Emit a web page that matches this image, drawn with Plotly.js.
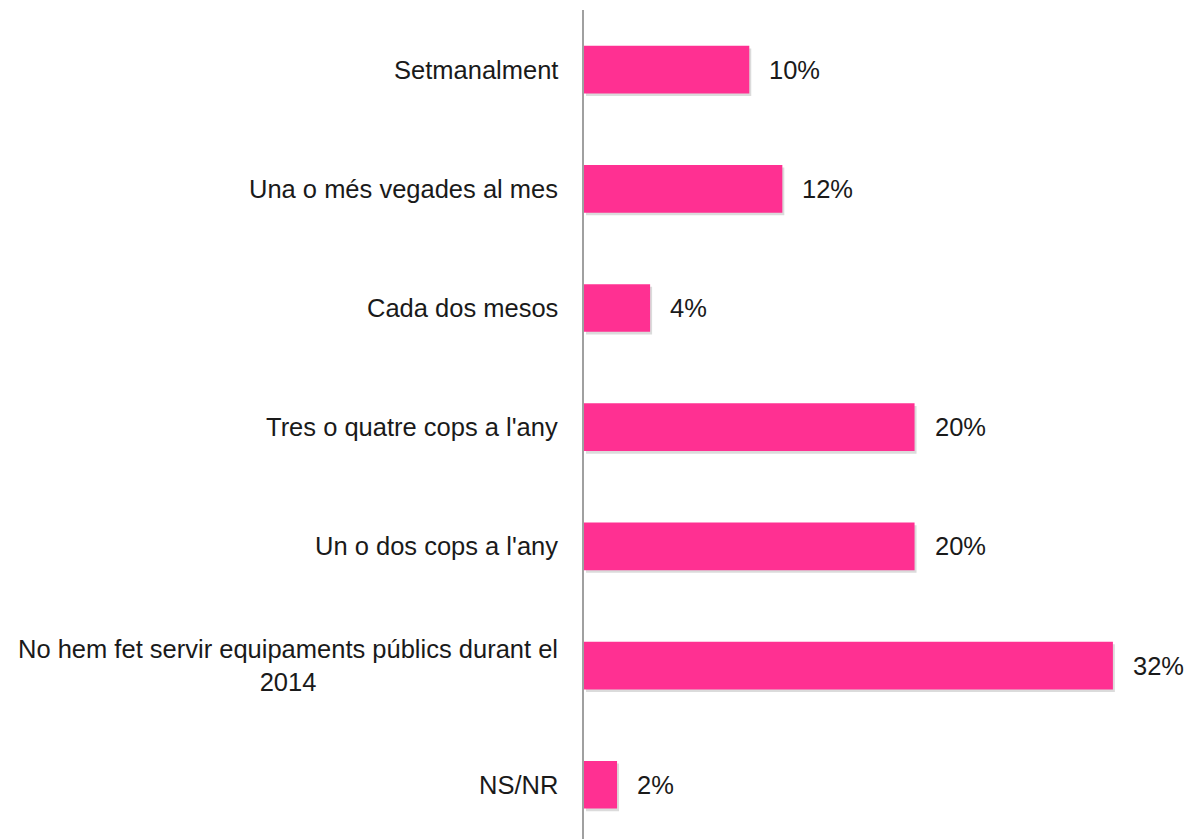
<!DOCTYPE html>
<html>
<head>
<meta charset="utf-8">
<script src="https://cdn.plot.ly/plotly-3.0.1.min.js"></script>
<style>
  body { margin: 0; background: #fff; }
  #plotDiv { width: 1200px; height: 839px; }
</style>
</head>
<body>
<div id="plotDiv"></div>
<script>
var categories = [
  'Setmanalment',
  'Una o més vegades al mes',
  'Cada dos mesos',
  "Tres o quatre cops a l'any",
  "Un o dos cops a l'any",
  'No hem fet servir equipaments públics durant el<br>2014',
  'NS/NR'
];
var values = [10, 12, 4, 20, 20, 32, 2];

var fontFam = '"Liberation Sans", Arial, sans-serif';

// soft drop shadow under each bar
var shadow = {
  type: 'bar',
  orientation: 'h',
  y: categories,
  x: values,
  base: 0.12,
  width: 0.4,
  offset: -0.178,
  marker: { color: 'rgba(0,0,0,0.14)' },
  hoverinfo: 'none'
};

var bars = {
  type: 'bar',
  orientation: 'h',
  y: categories,
  x: values,
  width: 0.4,
  offset: -0.2,
  marker: { color: '#FF3092' },
  hoverinfo: 'none'
};

var annotations = [];
for (var i = 0; i < categories.length; i++) {
  // category labels, centred lines, right edge next to axis
  annotations.push({
    xref: 'paper', yref: 'y',
    x: 0, y: categories[i],
    xanchor: 'right', yanchor: 'middle',
    xshift: -24,
    align: 'center',
    text: categories[i],
    showarrow: false,
    font: { family: fontFam, size: 25.5, color: '#1a1a1a' }
  });
  // value labels
  annotations.push({
    xref: 'x', yref: 'y',
    x: values[i], y: categories[i],
    xanchor: 'left', yanchor: 'middle',
    xshift: 18,
    text: values[i] + '%',
    showarrow: false,
    font: { family: fontFam, size: 25.5, color: '#1a1a1a' }
  });
}

var layout = {
  width: 1200,
  height: 839,
  margin: { l: 584, r: 0, t: 10, b: 0, pad: 0 },
  paper_bgcolor: '#fff',
  plot_bgcolor: '#fff',
  showlegend: false,
  barmode: 'overlay',
  xaxis: {
    range: [0, 37.27],
    showgrid: false,
    zeroline: false,
    showticklabels: false,
    showline: false
  },
  yaxis: {
    range: [6.455, -0.5],
    showticklabels: false,
    showgrid: false,
    zeroline: false,
    showline: true,
    linecolor: '#a0a0a0',
    linewidth: 2
  },
  annotations: annotations
};

Plotly.newPlot('plotDiv', [shadow, bars], layout, { displayModeBar: false, staticPlot: true });
</script>
</body>
</html>
